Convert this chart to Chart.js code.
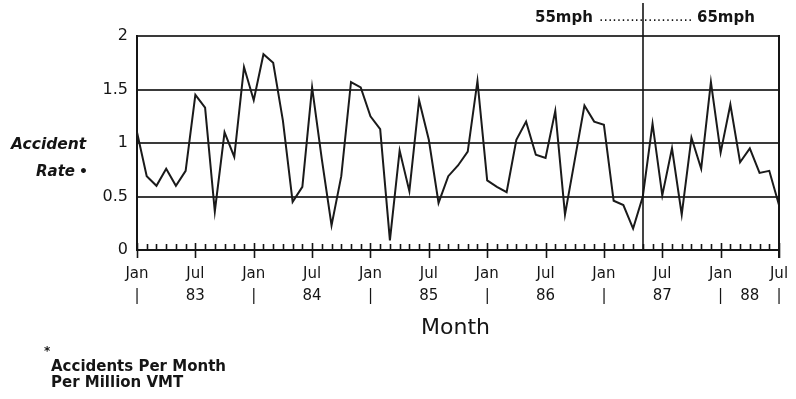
<!DOCTYPE html>
<html><head><meta charset="utf-8">
<script src="https://cdn.jsdelivr.net/npm/chart.js@4.4.1/dist/chart.umd.min.js"></script>
<style>
html,body{margin:0;padding:0;background:#fff;}
#wrap{position:relative;width:796px;height:399px;overflow:hidden;}
canvas{position:absolute;left:0;top:0;}
.t{position:absolute;font-family:"DejaVu Sans";color:#151515;white-space:nowrap;line-height:1;}
.b{font-weight:bold;}
.bi{font-weight:bold;font-style:italic;}
</style></head><body>
<div id="wrap">
<canvas id="c" width="796" height="399"></canvas>
<div class="t b" style="left:535px;top:10px;font-size:15px;">55mph</div>
<div class="t" style="left:599px;top:9px;font-size:14px;">.....................</div>
<div class="t b" style="left:697px;top:10px;font-size:15px;">65mph</div>
<div class="t bi" style="left:11px;top:137px;font-size:15.5px;">Accident</div>
<div class="t bi" style="left:36px;top:164px;font-size:15px;">Rate</div>
<div class="t b" style="left:79px;top:164px;font-size:14px;">•</div>
<div class="t" style="left:421px;top:316px;font-size:22px;">Month</div>
<div class="t b" style="left:44px;top:345px;font-size:12px;">*</div>
<div class="t b" style="left:51px;top:359px;font-size:15px;">Accidents Per Month</div>
<div class="t b" style="left:51px;top:375px;font-size:15px;">Per Million VMT</div>
</div>
<script>
// ---- data ----
const monthNames = ["Jan","Feb","Mar","Apr","May","Jun","Jul","Aug","Sep","Oct","Nov","Dec"];
const years = ["83","84","85","86","87","88"];
const rate1983 = [1.10, 0.69, 0.60, 0.76, 0.60, 0.74, 1.45, 1.33, 0.36, 1.10, 0.87, 1.71];
const rate1984 = [1.40, 1.83, 1.75, 1.21, 0.45, 0.59, 1.52, 0.85, 0.23, 0.69, 1.57, 1.52];
const rate1985 = [1.25, 1.13, 0.09, 0.93, 0.55, 1.40, 1.03, 0.44, 0.69, 0.79, 0.92, 1.58];
const rate1986 = [0.65, 0.59, 0.54, 1.03, 1.20, 0.89, 0.86, 1.30, 0.33, 0.84, 1.35, 1.20];
const rate1987 = [1.17, 0.46, 0.42, 0.20, 0.50, 1.18, 0.51, 0.95, 0.33, 1.05, 0.76, 1.57];
const rate1988 = [0.91, 1.36, 0.82, 0.95, 0.72, 0.74, 0.42];
const yTickValues = [0, 0.5, 1, 1.5, 2];
const yTickLabels = ["0", "0.5", "1", "1.5", "2"];
const limitChangeMonth = "May 87";
const lastYearLabel = "88";

const rates = [].concat(rate1983, rate1984, rate1985, rate1986, rate1987, rate1988);
const categories = [];
years.forEach(y => monthNames.forEach(m => categories.push(m + " " + y)));
categories.length = rates.length;

function xLabel(i) {
  const m = i % 12;
  const y = years[Math.floor(i / 12)];
  if (m === 0) return ["Jan", "|"];
  if (m === 6) return i === rates.length - 1 ? ["Jul", "|"] : ["Jul", y];
  return "";
}

const FONT = "DejaVu Sans";
const INK = "#151515";
const TICK_PAD = 13, LINE_H = 15 * 1.45;

const decor = {
  id: "decor",
  afterDraw(chart) {
    const ctx = chart.ctx, xs = chart.scales.x, a = chart.chartArea;
    ctx.save();
    ctx.strokeStyle = INK;
    ctx.lineWidth = 1.6;
    // month ticks
    for (let i = 0; i < rates.length; i++) {
      const x = Math.round(xs.getPixelForValue(i)) + 0.5;
      ctx.beginPath();
      if (i % 6 === 0) { ctx.moveTo(x, a.bottom - 7); ctx.lineTo(x, a.bottom + 8); }
      else { ctx.moveTo(x, a.bottom - 6); ctx.lineTo(x, a.bottom); }
      ctx.stroke();
    }
    // right frame
    ctx.lineWidth = 2;
    ctx.beginPath();
    ctx.moveTo(a.right, a.top - 1); ctx.lineTo(a.right, a.bottom + 8);
    ctx.stroke();
    // speed limit change line
    const vx = Math.round(xs.getPixelForValue(categories.indexOf(limitChangeMonth)));
    ctx.lineWidth = 1.6;
    ctx.beginPath();
    ctx.moveTo(vx, 3); ctx.lineTo(vx, a.bottom);
    ctx.stroke();
    // last year label, between Jan and Jul 88
    const x1 = xs.getPixelForValue(rates.length - 7), x2 = xs.getPixelForValue(rates.length - 1);
    ctx.fillStyle = INK;
    ctx.font = "15px '" + FONT + "'";
    ctx.textAlign = "center";
    ctx.textBaseline = "middle";
    ctx.fillText(lastYearLabel, (x1 + x2) / 2, a.bottom + TICK_PAD + LINE_H / 2 + LINE_H);
    ctx.restore();
  }
};

new Chart(document.getElementById("c"), {
  type: "line",
  data: {
    labels: categories,
    datasets: [{
      data: rates,
      borderColor: "#1a1a1a",
      borderWidth: 2,
      pointRadius: 0,
      tension: 0,
      fill: false
    }]
  },
  options: {
    responsive: false,
    animation: false,
    layout: { padding: { top: 36, right: 17, left: 0, bottom: 0 } },
    plugins: { legend: { display: false }, tooltip: { enabled: false } },
    scales: {
      x: {
        type: "category",
        offset: false,
        grid: { display: false, drawTicks: false },
        border: { display: true, color: INK, width: 2 },
        ticks: {
          autoSkip: false, maxRotation: 0, minRotation: 0, padding: TICK_PAD,
          color: INK, font: { family: FONT, size: 15, lineHeight: 1.45 },
          callback: (v, i) => xLabel(i)
        },
        afterFit: s => { s.height = 149; s.paddingLeft = 0; s.paddingRight = 0; }
      },
      y: {
        min: 0, max: 2,
        afterBuildTicks: s => { s.ticks = yTickValues.map(v => ({ value: v })); },
        grid: { color: "#3a3a3a", lineWidth: 2, drawTicks: false },
        border: { display: true, color: INK, width: 2 },
        ticks: {
          padding: 9, color: INK, font: { family: FONT, size: 16 },
          callback: (v) => yTickLabels[yTickValues.indexOf(v)]
        },
        afterFit: s => { s.width = 137; }
      }
    }
  },
  plugins: [decor]
});
</script>
</body></html>
